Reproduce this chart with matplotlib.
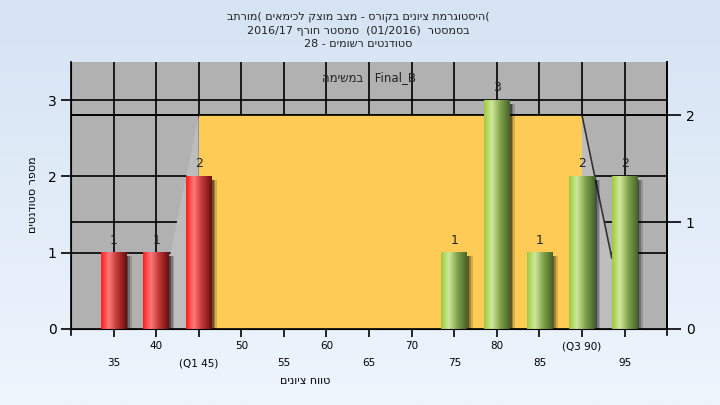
import re
import numpy as np
import matplotlib
matplotlib.use("Agg")
import matplotlib.pyplot as plt
from matplotlib.colors import LinearSegmentedColormap
from matplotlib.patches import Rectangle, Polygon

# נתונים
bins = [35, 40, 45, 75, 80, 85, 90, 95]
counts = [1, 1, 2, 1, 3, 1, 2, 2]
low_bins = [35, 40, 45]          # מתחת ל-Q1 - אדום
q1, q3 = 45, 90
box_right = 2                    # גובה המלבן בציר הימני
tail_left = [41.7, 1.0]          # קצה הזנב השמאלי (ציר שמאלי)
tail_right = [93.5, 0.93]        # קצה הזנב הימני

major_ticks = [40, 50, 60, 70, 80, 90]
major_labels = ["40", "50", "60", "70", "80", "(Q3 90)"]
minor_ticks = [35, 45, 55, 65, 75, 85, 95]
minor_labels = ["35", "(Q1 45)", "55", "65", "75", "85", "95"]

title_lines = ["(היסטוגרמת ציונים בקורס - מצב מוצק לכימאים (מורתב",
               "בסמסטר  (01/2016)  סמסטר חורף 2016/17",
               "סטודנטים רשומים - 28"]
note = "Final_B : במשימה"
xlabel = "טווח ציונים"
ylabel = "מספר סטודנטים"


def vis(s):
    # matplotlib לא מבצע bidi - הופכים לסדר חזותי
    parts = re.findall(r'[A-Za-z0-9_/().]+|[^A-Za-z0-9_/().]+', s)
    out = []
    for p in reversed(parts):
        out.append(p if re.match(r'[A-Za-z0-9_/().]', p) else p[::-1])
    return "".join(out)


ymax_l, ymax_r = 3.5, 2.5
k = ymax_l / ymax_r

fig = plt.figure(figsize=(7.2, 4.05), dpi=100)
bg = fig.add_axes([0, 0, 1, 1], zorder=-10)
grad = np.linspace(0, 1, 256).reshape(-1, 1)
bg.imshow(grad, aspect="auto", extent=[0, 1, 0, 1],
          cmap=LinearSegmentedColormap.from_list("bg", ["#d5e3f3", "#eef5fd"]))
bg.axis("off")

ax = fig.add_axes([0.0986, 0.188, 0.828, 0.659])
ax.set_facecolor("#b1b1b1")

# קווי רשת
for x in range(35, 100, 5):
    ax.plot([x, x], [0, ymax_l], color="black", lw=1.2, zorder=1)
for y in [1, 2, 3]:
    ax.plot([30, 100], [y, y], color="black", lw=1.2, zorder=1)
for y in [1, 2]:
    ax.plot([30, 100], [y * k, y * k], color="black", lw=1.2, zorder=1)

top = box_right * k
ax.add_patch(Polygon([(q1, 0), (q1, top), tuple(tail_left), (tail_left[0], 0)],
                     closed=True, color="#bdbdbd", zorder=2, lw=0))
ax.add_patch(Polygon([(q3, 0), (q3, top), tuple(tail_right), (tail_right[0], 0)],
                     closed=True, color="#bdbdbd", zorder=2, lw=0))
ax.plot([q3, tail_right[0]], [top, tail_right[1]], color="#333333", lw=1.2, zorder=2.5)
ax.add_patch(Rectangle((q1, 0), q3 - q1, top, color="#fecb57", zorder=2, lw=0))
ax.plot([30, 100], [top, top], color="black", lw=1.2, zorder=2.5)

red = LinearSegmentedColormap.from_list(
    "r", [(0, "#ff1c1c"), (0.3, "#ff7a7a"), (0.6, "#c43a3a"), (1, "#6a0e0e")])
green = LinearSegmentedColormap.from_list(
    "g", [(0, "#9ccb3a"), (0.3, "#cfe99c"), (0.65, "#7e9f48"), (1, "#46632a")])
w = 3.0
hg = np.linspace(0, 1, 128).reshape(1, -1)
for b, c in zip(bins, counts):
    x0 = b - w / 2
    for off, a in [(0.65, 0.15), (0.45, 0.25), (0.25, 0.35)]:
        ax.add_patch(Rectangle((x0 + off, 0), w, c - 0.05, color="black",
                               alpha=a, lw=0, zorder=3))
    cmap = red if b in low_bins else green
    ax.imshow(hg, aspect="auto", extent=[x0, x0 + w, 0, c], cmap=cmap,
              zorder=4, interpolation="bilinear")
    ax.text(b, c + 0.08, str(c), ha="center", va="bottom", fontsize=9,
            color="#202020", zorder=5)

ax.text(65, 3.3, vis(note), ha="center", va="center", fontsize=8.5, color="#222222")

ax.set_xlim(30, 100)
ax.set_ylim(0, ymax_l)
ax.set_yticks([0, 1, 2, 3])
ax.tick_params(axis="y", labelsize=10, length=7, width=1.2)
ax.set_xticks(major_ticks)
ax.set_xticklabels(major_labels)
ax.set_xticks(minor_ticks, minor=True)
ax.set_xticklabels(minor_labels, minor=True)
ax.tick_params(axis="x", which="major", labelsize=7.5, length=6, width=1.2, pad=3)
ax.tick_params(axis="x", which="minor", labelsize=7.5, length=6, width=1.2, pad=15)
for x in [30, 100]:
    ax.plot([x, x], [0, -0.08], color="black", lw=1.2, clip_on=False)
ax.spines["top"].set_visible(False)
for s in ["left", "bottom", "right"]:
    ax.spines[s].set_linewidth(1.2)

ax2 = ax.twinx()
ax2.set_ylim(0, ymax_r)
ax2.set_yticks([0, 1, 2])
ax2.tick_params(axis="y", labelsize=10, length=10, width=1.2)
ax2.spines["top"].set_visible(False)
ax2.spines["right"].set_linewidth(1.2)

fig.text(33 / 720, 1 - 195 / 405, vis(ylabel), ha="center", va="center",
         rotation=90, fontsize=8)
fig.text(305 / 720, 1 - 381 / 405, vis(xlabel), ha="center", va="center", fontsize=8)

for i, line in enumerate(title_lines):
    fig.text(358 / 720, 1 - (17 + 13.5 * i) / 405, vis(line), ha="center",
             va="center", fontsize=8, color="#222222")

fig.savefig("out.png", dpi=100)
